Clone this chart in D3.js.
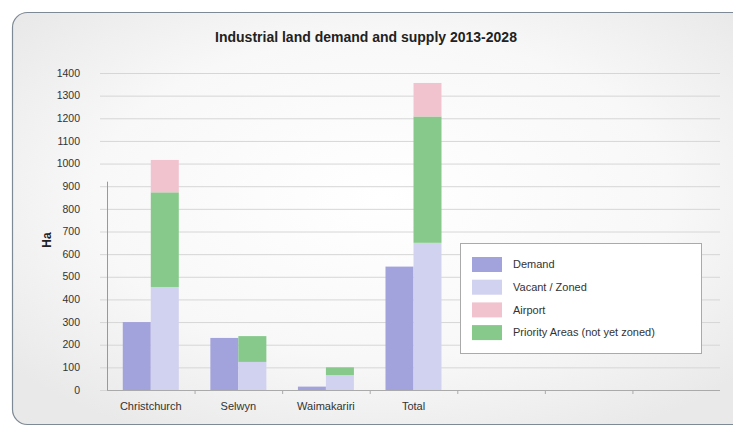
<!DOCTYPE html>
<meta charset="utf-8">
<style>
  body { margin: 0; background: #fff; }
  svg { display: block; font-family: "Liberation Sans", Arial, sans-serif; }
</style>
<body>
<script src="https://d3js.org/d3.v7.min.js"></script>
<div id="my_dataviz"></div>
<script>

// data
const categories = ["Christchurch", "Selwyn", "Waimakariri", "Total", "", " ", "  "];
const demand   = [300, 230, 15, 545];
const vacant   = [455, 124, 66, 650];
const priority = [418, 114, 34, 558];
const airport  = [143, 0, 0, 148];
const yTicks = [0, 100, 200, 300, 400, 500, 600, 700, 800, 900, 1000, 1100, 1200, 1300, 1400];
const legendLabels = ["Demand", "Vacant / Zoned", "Airport", "Priority Areas (not yet zoned)"];
const colors = ["#a2a2dc", "#d1d2f0", "#f1c3cf", "#86c98b"];

const W = 733, H = 427;
const margin = {top: 73, right: 13, bottom: 37, left: 107};
const width = W - margin.left - margin.right,
    height = H - margin.top - margin.bottom;

const svg = d3.select("#my_dataviz")
  .append("svg")
    .attr("width", W)
    .attr("height", H);

// card background
const defs = svg.append("defs");
const grad = defs.append("radialGradient").attr("id", "bg")
  .attr("cx", "50%").attr("cy", "45%").attr("r", "65%");
grad.append("stop").attr("offset", "0%").attr("stop-color", "#ffffff");
grad.append("stop").attr("offset", "60%").attr("stop-color", "#f8f8f8");
grad.append("stop").attr("offset", "100%").attr("stop-color", "#e9e9e9");

svg.append("rect")
  .attr("x", 12.5).attr("y", 12.5)
  .attr("width", 740).attr("height", 412)
  .attr("rx", 15)
  .attr("fill", "url(#bg)")
  .attr("stroke", "#7d8994")
  .attr("stroke-width", 1.2);

const g = svg.append("g")
  .attr("transform", `translate(${margin.left}, ${margin.top})`);

const x = d3.scaleBand()
  .domain(categories)
  .range([0, width]);

const y = d3.scaleLinear()
  .domain([0, 1400])
  .range([height, 0]);

// grid
g.append("g")
  .selectAll("line")
  .data(yTicks)
  .join("line")
    .attr("x1", -7).attr("x2", width)
    .attr("y1", d => y(d) + 0.5).attr("y2", d => y(d) + 0.5)
    .attr("stroke", "#d6d6d6")
    .attr("stroke-width", 1);

// y labels
g.append("g")
  .selectAll("text")
  .data(yTicks)
  .join("text")
    .attr("x", -27)
    .attr("y", d => y(d))
    .attr("dy", "0.35em")
    .attr("text-anchor", "end")
    .attr("font-size", "10.5px")
    .attr("fill", "#333")
    .text(d => d);

// axis lines
g.append("line")
  .attr("x1", 0.5).attr("x2", 0.5)
  .attr("y1", y(0)).attr("y2", y(920))
  .attr("stroke", "#999");
g.append("line")
  .attr("x1", 0).attr("x2", width)
  .attr("y1", y(0) + 0.5).attr("y2", y(0) + 0.5)
  .attr("stroke", "#aaa");
g.append("g")
  .selectAll("line")
  .data(categories.slice(1))
  .join("line")
    .attr("x1", d => x(d) + 0.5).attr("x2", d => x(d) + 0.5)
    .attr("y1", y(0)).attr("y2", y(0) + 4)
    .attr("stroke", "#aaa");

// x labels
g.append("g")
  .selectAll("text")
  .data(categories.slice(0, 4))
  .join("text")
    .attr("x", d => x(d) + x.bandwidth() / 2)
    .attr("y", height + 20)
    .attr("text-anchor", "middle")
    .attr("font-size", "11px")
    .attr("fill", "#333")
    .text(d => d);

const barW = 28;
const rows = demand.map((d, i) => ({
  cat: categories[i], demand: d, vacant: vacant[i], priority: priority[i], airport: airport[i]
}));

// demand bars
g.append("g")
  .selectAll("rect")
  .data(rows)
  .join("rect")
    .attr("x", d => x(d.cat) + x.bandwidth() / 2 - barW)
    .attr("y", d => y(d.demand))
    .attr("width", barW)
    .attr("height", d => y(0) - y(d.demand))
    .attr("fill", colors[0]);

// supply stack
const stack = d3.stack().keys(["vacant", "priority", "airport"])(rows);
const stackColors = {vacant: colors[1], priority: colors[3], airport: colors[2]};
g.append("g")
  .selectAll("g")
  .data(stack)
  .join("g")
    .attr("fill", d => stackColors[d.key])
  .selectAll("rect")
  .data(d => d)
  .join("rect")
    .attr("x", d => x(d.data.cat) + x.bandwidth() / 2)
    .attr("y", d => y(d[1]))
    .attr("width", barW)
    .attr("height", d => y(d[0]) - y(d[1]));

// title
svg.append("text")
  .attr("x", 366)
  .attr("y", 42)
  .attr("text-anchor", "middle")
  .attr("font-size", "14px")
  .attr("font-weight", "bold")
  .attr("fill", "#222")
  .text("Industrial land demand and supply 2013-2028");

// y title
svg.append("text")
  .attr("transform", "translate(51, 240) rotate(-90)")
  .attr("text-anchor", "middle")
  .attr("font-size", "12px")
  .attr("font-weight", "bold")
  .attr("fill", "#222")
  .text("Ha");

// legend
const lg = svg.append("g").attr("transform", "translate(460, 243)");
lg.append("rect")
  .attr("x", 0.5).attr("y", 0.5)
  .attr("width", 241).attr("height", 110)
  .attr("fill", "#fff")
  .attr("stroke", "#aaa");
legendLabels.forEach((t, i) => {
  lg.append("rect")
    .attr("x", 12).attr("y", 14 + i * 22.7)
    .attr("width", 30).attr("height", 15)
    .attr("fill", colors[i]);
  lg.append("text")
    .attr("x", 53).attr("y", 21.5 + i * 22.7)
    .attr("dy", "0.35em")
    .attr("font-size", "11px")
    .attr("fill", "#333")
    .text(t);
});

</script>
</body>
